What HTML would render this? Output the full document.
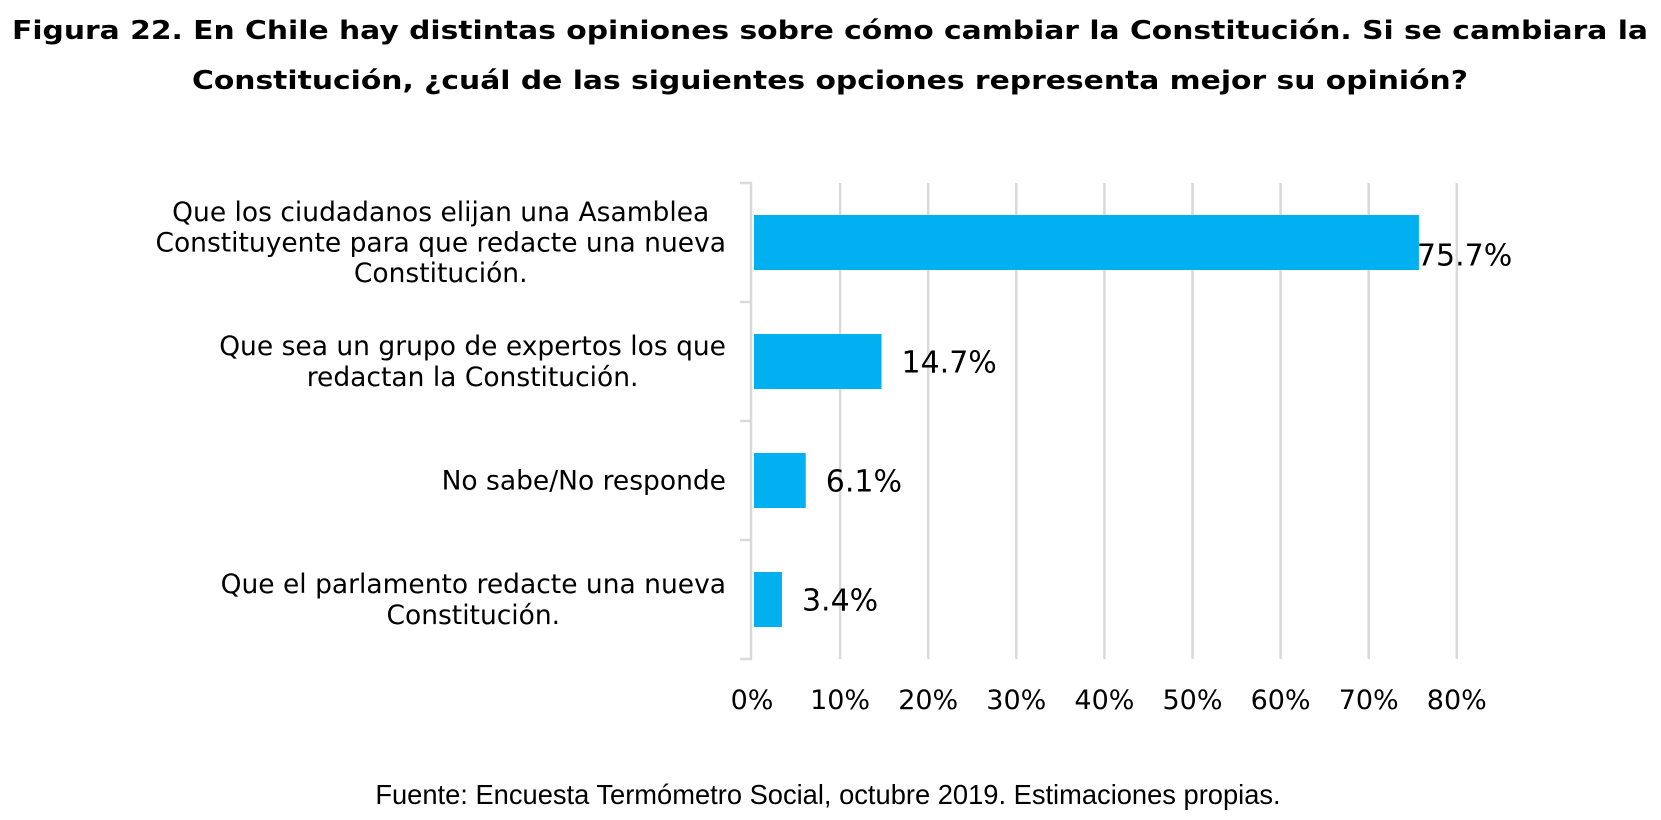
<!DOCTYPE html>
<html><head><meta charset="utf-8"><style>
html,body{margin:0;padding:0;background:#fff;}
svg{display:block;font-family:"DejaVu Sans","Liberation Sans",sans-serif;}
</style></head><body>
<svg id="c" width="1661" height="820" viewBox="0 0 1661 820">
<text x="830" y="39" text-anchor="middle" font-weight="bold" font-size="25.5" textLength="1636" lengthAdjust="spacingAndGlyphs">Figura 22. En Chile hay distintas opiniones sobre cómo cambiar la Constitución. Si se cambiara la</text>
<text x="830" y="89" text-anchor="middle" font-weight="bold" font-size="25.5" textLength="1276" lengthAdjust="spacingAndGlyphs">Constitución, ¿cuál de las siguientes opciones representa mejor su opinión?</text>
<g id="grid"></g><g id="bars"></g><g id="labels"></g>
<text x="828" y="804" text-anchor="middle" font-family="Liberation Sans, sans-serif" font-size="27.3">Fuente: Encuesta Termómetro Social, octubre 2019. Estimaciones propias.</text>
</svg>
<script>
const categories = [
  ["Que los ciudadanos elijan una Asamblea","Constituyente para que redacte una nueva","Constitución."],
  ["Que sea un grupo de expertos los que","redactan la Constitución."],
  ["No sabe/No responde"],
  ["Que el parlamento redacte una nueva","Constitución."]
];
const values = [75.7, 14.7, 6.1, 3.4];
const valueLabels = ["75.7%","14.7%","6.1%","3.4%"];
const ticks = [0,10,20,30,40,50,60,70,80];
const tickLabels = ["0%","10%","20%","30%","40%","50%","60%","70%","80%"];

const NS="http://www.w3.org/2000/svg";
const x0=752, pxPer=8.81, yTop=183, band=119, barH=55;
const xs=v=>x0+v*pxPer;
const yc=i=>yTop+band*i+band/2;
function mk(t,a,p){const e=document.createElementNS(NS,t);for(const k in a)e.setAttribute(k,a[k]);p.appendChild(e);return e;}
const grid=document.getElementById('grid'),bars=document.getElementById('bars'),labels=document.getElementById('labels');

ticks.forEach((t,i)=>{
  if(i>0){const g=mk('line',{x1:xs(t),x2:xs(t),y1:yTop,y2:yTop+band*4,stroke:'#d9d9d9','stroke-width':2.5},grid);
  
  }
  const tl=mk('text',{x:xs(t),y:709,'text-anchor':'middle','font-size':27},labels);
  tl.textContent=tickLabels[i];
  
  
});
const ax=mk('line',{x1:x0-1,x2:x0-1,y1:yTop,y2:yTop+band*4,stroke:'#d9d9d9','stroke-width':2.5},grid);


for(let i=0;i<=4;i++){
  const tk=mk('line',{x1:x0-12,x2:x0,y1:yTop+band*i,y2:yTop+band*i,stroke:'#d9d9d9','stroke-width':2.5},grid);
  
  
}
values.forEach((v,i)=>{
  const b=mk('rect',{x:x0+2,y:yc(i)-barH/2,width:xs(v)-x0-2,height:barH,fill:'#00b0f0'},bars);
  
  
  let lx=xs(v)+20, ly=yc(i)+11;
  if(lx+100>1530){lx=xs(v)-2; ly=yc(i)+23;}
  const vl=mk('text',{x:lx,y:ly,'font-size':30},labels);
  vl.textContent=valueLabels[i];
  
  
  const lines=categories[i], lh=30.7;
  const g=mk('g',{},labels);
  
  
  const els=lines.map((s,j)=>{const t=mk('text',{x:0,y:yc(i)-(lines.length-1)*lh/2+j*lh+9,'font-size':26.5,'text-anchor':'middle'},g);t.textContent=s;return t;});
  const w=Math.max(...els.map(e=>e.getComputedTextLength()));
  els.forEach(e=>e.setAttribute('x',726-w/2));
});
</script>
</body></html>
